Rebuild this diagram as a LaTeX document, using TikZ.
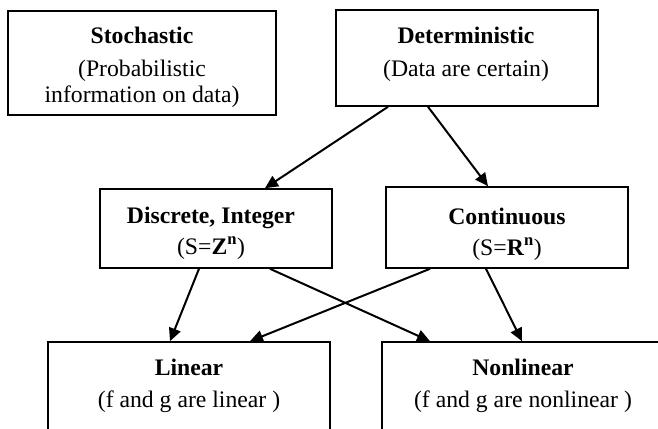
\documentclass[tikz,border=0pt]{standalone}
\usepackage{fontspec}
\setmainfont{Liberation Serif}
\usetikzlibrary{arrows.meta}
\begin{document}
\begin{tikzpicture}[x=1pt,y=-1pt,
  box/.style={draw=black,line width=1.6pt,inner sep=0pt,fill=none},
  lbl/.style={anchor=base,inner sep=0pt,font=\fontsize{23.7}{26}\selectfont},
  arr/.style={draw=black,line width=2pt,-{Triangle[length=13pt,width=12pt]}}]
\useasboundingbox (0,0) rectangle (658,428);
\clip (0,0) rectangle (658,428);
\fill[white] (0,0) rectangle (658,428);

% boxes
\node[box,minimum width=268pt,minimum height=104pt] (sto) at (142,63) {};
\node[box,minimum width=262pt,minimum height=96pt]  (det) at (467,58) {};
\node[box,minimum width=232pt,minimum height=79pt]  (dis) at (216,228.5) {};
\node[box,minimum width=242pt,minimum height=81pt]  (con) at (507,227.5) {};
\node[box,minimum width=282pt,minimum height=128pt] (lin) at (189,406) {};
\node[box,minimum width=282pt,minimum height=128pt] (non) at (523,406) {};

% texts
\node[lbl] (stoA) at (142,44)  {\textbf{Stochastic}};
\node[lbl] (stoB) at (142,76)  {(Probabilistic};
\node[lbl] (stoC) at (142,102) {information on data)};
\node[lbl] (detA) at (466,44)  {\textbf{Deterministic}};
\node[lbl] (detB) at (466,76)  {(Data are certain)};
\node[lbl] (disA) at (211,223) {\textbf{Discrete, Integer}};
\node[lbl] (disB) at (211,254) {(S=\textbf{Z}\textsuperscript{\bfseries n})};
\node[lbl] (conA) at (507,224) {\textbf{Continuous}};
\node[lbl] (conB) at (507,255) {(S=\textbf{R}\textsuperscript{\bfseries n})};
\node[lbl] (linA) at (189,375) {\textbf{Linear}};
\node[lbl] (linB) at (189,407) {(f and g are linear )};
\node[lbl] (nonA) at (523,375) {\textbf{Nonlinear}};
\node[lbl] (nonB) at (523,407) {(f and g are nonlinear )};

% connectors
\draw[arr] ([xshift=-79pt]det.south) -- ([xshift=49pt]dis.north);
\draw[arr] ([xshift=-39pt]det.south) -- ([xshift=-19pt]con.north);
\draw[arr] ([xshift=-17pt]dis.south) -- ([xshift=-19pt]lin.north);
\draw[arr] ([xshift=54pt]dis.south)  -- ([xshift=-93pt]non.north);
\draw[arr] ([xshift=-77pt]con.south) -- ([xshift=61pt]lin.north);
\draw[arr] ([xshift=-21pt]con.south) -- ([xshift=-1pt]non.north);
\end{tikzpicture}
\end{document}
